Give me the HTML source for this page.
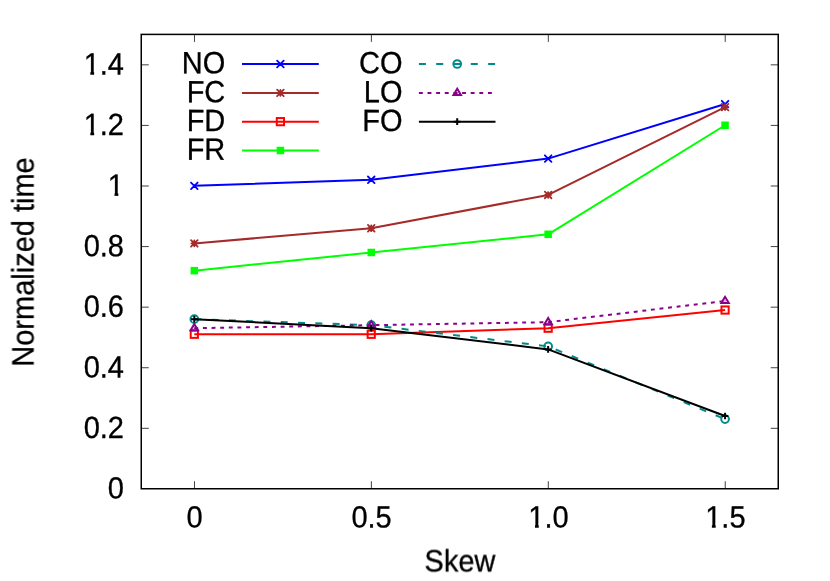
<!DOCTYPE html>
<html><head><meta charset="utf-8"><title>Normalized time vs Skew</title>
<style>
html,body{margin:0;padding:0;background:#fff;}
svg{display:block;}
#wrap{width:830px;height:581px;will-change:transform;background:#fff;}
text{font-family:"Liberation Sans",sans-serif;font-size:29px;fill:#000;stroke:#000;stroke-width:0.3px;text-rendering:geometricPrecision;}
</style></head><body>
<div id="wrap">
<svg width="830" height="581" viewBox="0 0 830 581">
<rect x="0" y="0" width="830" height="581" fill="#ffffff"/>

<path d="M141.25 428.32h7.5M778.25 428.32h-7.5M141.25 367.74h7.5M778.25 367.74h-7.5M141.25 307.16h7.5M778.25 307.16h-7.5M141.25 246.58h7.5M778.25 246.58h-7.5M141.25 186.00h7.5M778.25 186.00h-7.5M141.25 125.42h7.5M778.25 125.42h-7.5M141.25 64.84h7.5M778.25 64.84h-7.5M194.47 488.75v-7.5M194.47 34.40v7.5M371.38 488.75v-7.5M371.38 34.40v7.5M548.30 488.75v-7.5M548.30 34.40v7.5M725.22 488.75v-7.5M725.22 34.40v7.5" stroke="#000" stroke-width="0.75" fill="none"/>
<path d="M242.0 64.0H318.8" stroke="#0000ff" stroke-width="2.0" fill="none"/>
<path d="M277.10 60.70L283.70 67.30M277.10 67.30L283.70 60.70" stroke="#0000ff" stroke-width="1.8" stroke-linecap="round" fill="none"/>
<polyline points="194.32,185.85 371.24,179.79 548.15,158.59 725.07,104.07" stroke="#0000ff" stroke-width="2.0" fill="none" stroke-linejoin="round"/>
<path d="M191.02 182.55L197.62 189.15M191.02 189.15L197.62 182.55" stroke="#0000ff" stroke-width="1.8" stroke-linecap="round" fill="none"/>
<path d="M367.94 176.49L374.54 183.09M367.94 183.09L374.54 176.49" stroke="#0000ff" stroke-width="1.8" stroke-linecap="round" fill="none"/>
<path d="M544.85 155.29L551.45 161.89M544.85 161.89L551.45 155.29" stroke="#0000ff" stroke-width="1.8" stroke-linecap="round" fill="none"/>
<path d="M721.77 100.77L728.37 107.37M721.77 107.37L728.37 100.77" stroke="#0000ff" stroke-width="1.8" stroke-linecap="round" fill="none"/>
<path d="M242.0 92.9H318.8" stroke="#a52a2a" stroke-width="2.0" fill="none"/>
<path d="M277.10 89.60L283.70 96.20M277.10 96.20L283.70 89.60M277.50 92.90L283.30 92.90M280.40 90.00L280.40 95.80" stroke="#a52a2a" stroke-width="1.8" stroke-linecap="round" fill="none"/>
<polyline points="194.32,243.40 371.24,228.26 548.15,194.94 725.07,107.10" stroke="#a52a2a" stroke-width="2.0" fill="none" stroke-linejoin="round"/>
<path d="M191.02 240.10L197.62 246.70M191.02 246.70L197.62 240.10M191.42 243.40L197.22 243.40M194.32 240.50L194.32 246.30" stroke="#a52a2a" stroke-width="1.8" stroke-linecap="round" fill="none"/>
<path d="M367.94 224.96L374.54 231.56M367.94 231.56L374.54 224.96M368.34 228.26L374.13 228.26M371.24 225.36L371.24 231.16" stroke="#a52a2a" stroke-width="1.8" stroke-linecap="round" fill="none"/>
<path d="M544.85 191.64L551.45 198.24M544.85 198.24L551.45 191.64M545.25 194.94L551.05 194.94M548.15 192.04L548.15 197.84" stroke="#a52a2a" stroke-width="1.8" stroke-linecap="round" fill="none"/>
<path d="M721.77 103.80L728.37 110.40M721.77 110.40L728.37 103.80M722.17 107.10L727.97 107.10M725.07 104.20L725.07 110.00" stroke="#a52a2a" stroke-width="1.8" stroke-linecap="round" fill="none"/>
<path d="M242.0 121.65H318.8" stroke="#ff0000" stroke-width="2.0" fill="none"/>
<rect x="276.80" y="118.05" width="7.20" height="7.20" stroke="#ff0000" stroke-width="2.0" fill="none"/>
<polyline points="194.32,334.27 371.24,334.27 548.15,328.21 725.07,310.04" stroke="#ff0000" stroke-width="2.0" fill="none" stroke-linejoin="round"/>
<rect x="190.72" y="330.67" width="7.20" height="7.20" stroke="#ff0000" stroke-width="2.0" fill="none"/>
<rect x="367.63" y="330.67" width="7.20" height="7.20" stroke="#ff0000" stroke-width="2.0" fill="none"/>
<rect x="544.55" y="324.61" width="7.20" height="7.20" stroke="#ff0000" stroke-width="2.0" fill="none"/>
<rect x="721.47" y="306.44" width="7.20" height="7.20" stroke="#ff0000" stroke-width="2.0" fill="none"/>
<path d="M242.0 150.5H318.8" stroke="#00ff00" stroke-width="2.0" fill="none"/>
<rect x="276.65" y="146.75" width="7.50" height="7.50" fill="#00ff00"/>
<polyline points="194.32,270.66 371.24,252.49 548.15,234.31 725.07,125.27" stroke="#00ff00" stroke-width="2.0" fill="none" stroke-linejoin="round"/>
<rect x="190.57" y="266.91" width="7.50" height="7.50" fill="#00ff00"/>
<rect x="367.49" y="248.74" width="7.50" height="7.50" fill="#00ff00"/>
<rect x="544.40" y="230.56" width="7.50" height="7.50" fill="#00ff00"/>
<rect x="721.32" y="121.52" width="7.50" height="7.50" fill="#00ff00"/>
<path d="M418.9 64.0H495.5" stroke="#008b8b" stroke-width="2.0" fill="none" stroke-dasharray="7 10.3"/>
<circle cx="457.20" cy="64.00" r="3.85" stroke="#008b8b" stroke-width="2.0" fill="none"/>
<polyline points="194.32,319.13 371.24,325.18 548.15,346.39 725.07,419.08" stroke="#008b8b" stroke-width="2.0" fill="none" stroke-linejoin="round" stroke-dasharray="7 10.3"/>
<circle cx="194.32" cy="319.13" r="3.85" stroke="#008b8b" stroke-width="2.0" fill="none"/>
<circle cx="371.24" cy="325.18" r="3.85" stroke="#008b8b" stroke-width="2.0" fill="none"/>
<circle cx="548.15" cy="346.39" r="3.85" stroke="#008b8b" stroke-width="2.0" fill="none"/>
<circle cx="725.07" cy="419.08" r="3.85" stroke="#008b8b" stroke-width="2.0" fill="none"/>
<path d="M418.9 92.9H495.5" stroke="#8b008b" stroke-width="2.0" fill="none" stroke-dasharray="3.9 4.73"/>
<path d="M457.20 88.80L453.45 95.00L460.95 95.00Z" stroke="#8b008b" stroke-width="2.0" fill="none"/><circle cx="457.20" cy="92.90" r="0.6" fill="#8b008b"/>
<polyline points="194.32,328.21 371.24,325.18 548.15,322.15 725.07,300.95" stroke="#8b008b" stroke-width="2.0" fill="none" stroke-linejoin="round" stroke-dasharray="3.9 4.73"/>
<path d="M194.32 324.11L190.57 330.31L198.07 330.31Z" stroke="#8b008b" stroke-width="2.0" fill="none"/><circle cx="194.32" cy="328.21" r="0.6" fill="#8b008b"/>
<path d="M371.24 321.08L367.49 327.28L374.99 327.28Z" stroke="#8b008b" stroke-width="2.0" fill="none"/><circle cx="371.24" cy="325.18" r="0.6" fill="#8b008b"/>
<path d="M548.15 318.05L544.40 324.25L551.90 324.25Z" stroke="#8b008b" stroke-width="2.0" fill="none"/><circle cx="548.15" cy="322.15" r="0.6" fill="#8b008b"/>
<path d="M725.07 296.85L721.32 303.05L728.82 303.05Z" stroke="#8b008b" stroke-width="2.0" fill="none"/><circle cx="725.07" cy="300.95" r="0.6" fill="#8b008b"/>
<path d="M418.9 121.65H495.5" stroke="#000000" stroke-width="2.0" fill="none"/>
<path d="M453.90 121.65L460.50 121.65M457.20 118.35L457.20 124.95" stroke="#000000" stroke-width="2.0" fill="none"/>
<polyline points="194.32,319.13 371.24,328.21 548.15,349.42 725.07,416.05" stroke="#000000" stroke-width="2.0" fill="none" stroke-linejoin="round"/>
<path d="M191.02 319.13L197.62 319.13M194.32 315.83L194.32 322.43" stroke="#000000" stroke-width="2.0" fill="none"/>
<path d="M367.94 328.21L374.54 328.21M371.24 324.91L371.24 331.51" stroke="#000000" stroke-width="2.0" fill="none"/>
<path d="M544.85 349.42L551.45 349.42M548.15 346.12L548.15 352.72" stroke="#000000" stroke-width="2.0" fill="none"/>
<path d="M721.77 416.05L728.37 416.05M725.07 412.75L725.07 419.35" stroke="#000000" stroke-width="2.0" fill="none"/>
<defs><clipPath id="one" clipPathUnits="userSpaceOnUse"><rect x="-1" y="-26" width="19" height="22.9"/><rect x="6.7" y="-3.2" width="3.75" height="4"/></clipPath></defs>
<defs><mask id="tm"><rect x="0" y="0" width="830" height="581" fill="#fff"/></mask></defs>
<g mask="url(#tm)">
<text transform="translate(124.0,498.6) rotate(0.03) scale(1,1.06)" text-anchor="end">0</text>
<text transform="translate(124.0,438.02) rotate(0.03) scale(1,1.06)" text-anchor="end">0.2</text>
<text transform="translate(124.0,377.44) rotate(0.03) scale(1,1.06)" text-anchor="end">0.4</text>
<text transform="translate(124.0,316.86) rotate(0.03) scale(1,1.06)" text-anchor="end">0.6</text>
<text transform="translate(124.0,256.28) rotate(0.03) scale(1,1.06)" text-anchor="end">0.8</text>
<text transform="translate(107.859,195.7) rotate(0.03) scale(1,1.06)" clip-path="url(#one)">1</text>
<text transform="translate(83.672,135.12) rotate(0.03) scale(1,1.06)" clip-path="url(#one)">1</text><text transform="translate(99.797,135.12) rotate(0.03) scale(1,1.06)">.2</text>
<text transform="translate(83.672,74.54) rotate(0.03) scale(1,1.06)" clip-path="url(#one)">1</text><text transform="translate(99.797,74.54) rotate(0.03) scale(1,1.06)">.4</text>
<text transform="translate(194.62,527.5) rotate(0.03) scale(1,1.06)" text-anchor="middle">0</text>
<text transform="translate(371.54,527.5) rotate(0.03) scale(1,1.06)" text-anchor="middle">0.5</text>
<text transform="translate(528.286,527.5) rotate(0.03) scale(1,1.06)" clip-path="url(#one)">1</text><text transform="translate(544.411,527.5) rotate(0.03) scale(1,1.06)">.0</text>
<text transform="translate(705.206,527.5) rotate(0.03) scale(1,1.06)" clip-path="url(#one)">1</text><text transform="translate(721.331,527.5) rotate(0.03) scale(1,1.06)">.5</text>
<text transform="translate(459.9,571.0) rotate(0.03) scale(1,1.06)" text-anchor="middle">Skew</text>
<text transform="translate(33.1,262.0) rotate(-90) scale(1,1.06)" text-anchor="middle">Normalized time</text>
<text transform="translate(225.3,73.35) rotate(0.03) scale(1,1.06)" text-anchor="end">NO</text>
<text transform="translate(225.3,102.25) rotate(0.03) scale(1,1.06)" text-anchor="end">FC</text>
<text transform="translate(225.3,131.0) rotate(0.03) scale(1,1.06)" text-anchor="end">FD</text>
<text transform="translate(225.3,159.85) rotate(0.03) scale(1,1.06)" text-anchor="end">FR</text>
<text transform="translate(402.5,73.35) rotate(0.03) scale(1,1.06)" text-anchor="end">CO</text>
<text transform="translate(402.5,102.25) rotate(0.03) scale(1,1.06)" text-anchor="end">LO</text>
<text transform="translate(402.5,131.0) rotate(0.03) scale(1,1.06)" text-anchor="end">FO</text>
</g>
<rect x="141.25" y="34.4" width="637.00" height="454.35" stroke="#000" stroke-width="1.5" fill="none"/>
</svg>
</div>
</body></html>
